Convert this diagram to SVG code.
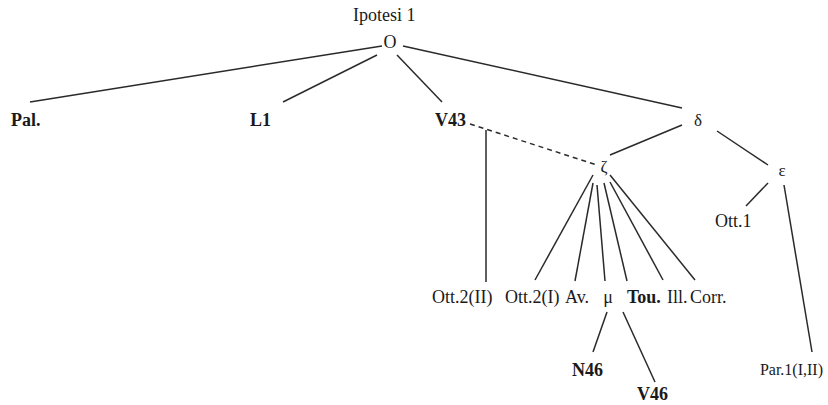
<svg xmlns="http://www.w3.org/2000/svg" width="828" height="405" viewBox="0 0 828 405">
<style>
.t{font-family:"Liberation Serif","Times New Roman",serif;font-size:18px;fill:#1a1a1a}
.b{font-weight:bold}
.g{font-size:17px}
.e line{stroke:#2a2a2a;stroke-width:1.5;fill:none}
.e .d{stroke-dasharray:5 4}
</style>
<rect width="828" height="405" fill="#fff"/>
<g id="connectors" class="e">
<line x1="382" y1="46" x2="30" y2="102"/>
<line x1="377" y1="55" x2="283" y2="102"/>
<line x1="397" y1="55" x2="442" y2="102"/>
<line x1="403" y1="46" x2="682" y2="108"/>
<line x1="682" y1="125" x2="610" y2="155"/>
<line x1="717" y1="131" x2="768" y2="165"/>
<line x1="768" y1="183" x2="746" y2="206"/>
<line x1="784" y1="185" x2="812" y2="352"/>
<line class="d" x1="470" y1="124" x2="597" y2="165"/>
<line x1="486" y1="130" x2="486" y2="282"/>
<line x1="593" y1="175" x2="535" y2="280"/>
<line x1="593" y1="183" x2="575" y2="281"/>
<line x1="597" y1="185" x2="605" y2="281"/>
<line x1="604" y1="183" x2="627" y2="281"/>
<line x1="610" y1="182" x2="663" y2="280"/>
<line x1="610" y1="175" x2="695" y2="280"/>
<line x1="607" y1="312" x2="593" y2="352"/>
<line x1="623" y1="312" x2="655" y2="382"/>
</g>
<g id="title"><text class="t" x="353" y="21">Ipotesi 1</text></g>
<g id="O"><text class="t" x="390" y="48" text-anchor="middle">O</text></g>
<g id="Pal"><text class="t b" x="11" y="126">Pal.</text></g>
<g id="L1"><text class="t b" x="250" y="126">L1</text></g>
<g id="V43"><text class="t b" x="435" y="126">V43</text></g>
<g id="delta"><text class="t g" x="698" y="126" text-anchor="middle">δ</text></g>
<g id="epsilon"><text class="t g" x="782" y="176" text-anchor="middle">ε</text></g>
<g id="zeta"><text class="t g" x="604" y="172" text-anchor="middle">ζ</text></g>
<g id="Ott1"><text class="t" x="715" y="227">Ott.1</text></g>
<g id="Ott2II"><text class="t" x="432" y="303">Ott.2(II)</text></g>
<g id="Ott2I"><text class="t" x="505" y="303">Ott.2(I)</text></g>
<g id="Av"><text class="t" x="565" y="303">Av.</text></g>
<g id="mu"><text class="t" x="608" y="303" text-anchor="middle">μ</text></g>
<g id="Tou"><text class="t b" x="627" y="303">Tou.</text></g>
<g id="Ill"><text class="t" x="667" y="303">Ill.</text></g>
<g id="Corr"><text class="t" x="690" y="303">Corr.</text></g>
<g id="N46"><text class="t b" x="572" y="376">N46</text></g>
<g id="V46"><text class="t b" x="637" y="400">V46</text></g>
<g id="Par1"><text class="t" x="823" y="375" text-anchor="end" style="font-size:16px">Par.1(I,II)</text></g>
</svg>
